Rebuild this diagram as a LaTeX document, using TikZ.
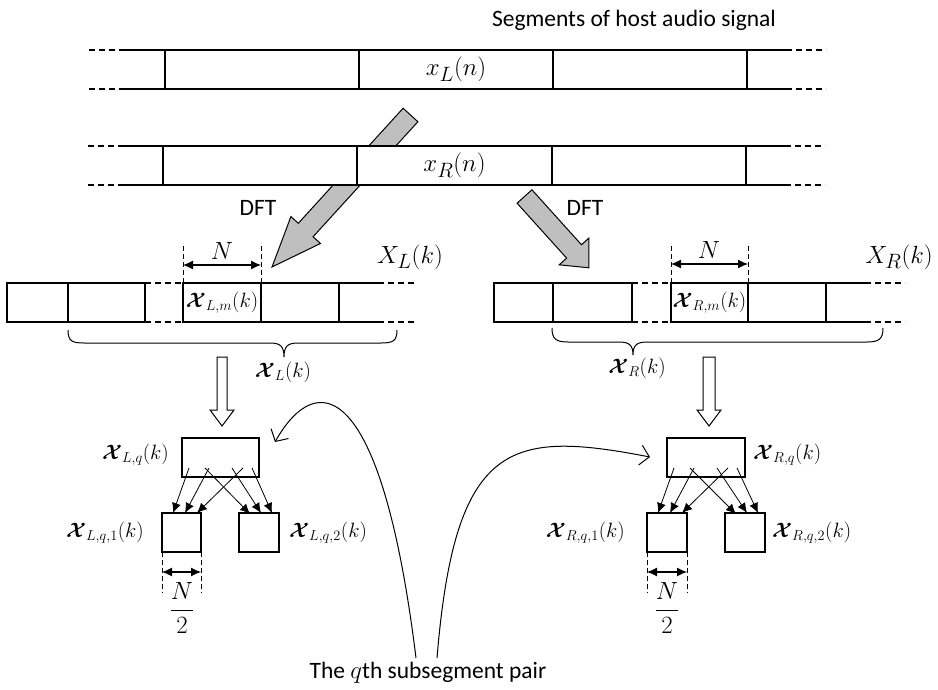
\documentclass[tikz,border=0pt]{standalone}
\usepackage{amsmath}
\usepackage{bm}
\usepackage{fontspec}
\setsansfont{Carlito}
\usetikzlibrary{arrows.meta,calc}
\newcommand{\cX}{\bm{\mathcal{X}}}
\begin{document}
\begin{tikzpicture}[x=1pt,y=-1pt,
  box/.style={draw, line width=1.1pt, fill=white, inner sep=0pt, outer sep=0pt, anchor=north west},
  ext/.style={line width=1.1pt},
  dsh/.style={line width=1.1pt, dash pattern=on 6pt off 4pt},
  vdsh/.style={line width=0.9pt, dash pattern=on 5pt off 3pt},
  dim/.style={line width=1.1pt, {Latex[length=10pt,width=9pt]}-{Latex[length=10pt,width=9pt]}},
  tarr/.style={line width=0.8pt, -{Latex[length=10pt,width=9pt]}},
  curv/.style={line width=1pt, -{Straight Barb[length=9pt,width=20pt,line width=1pt]}},
  gblock/.style={draw, line width=1pt, fill=black!25, line join=miter},
  hollow/.style={draw, line width=1pt, fill=white, line join=miter},
  sflab/.style={font=\sffamily\fontsize{23.5}{28}\selectfont, inner sep=0pt},
  mlab/.style={font=\fontsize{28}{32}\selectfont, inner sep=0pt},
  clab/.style={font=\fontsize{22}{26}\selectfont, inner sep=0pt},
  nlab/.style={font=\fontsize{25}{29}\selectfont, inner sep=0pt},
  flab/.style={font=\fontsize{24}{28}\selectfont, inner sep=0pt}
]
\useasboundingbox (0,0) rectangle (938,690);

% title
\node[sflab] (title) at (634,20) {Segments of host audio signal};

% row 1
\node[box,minimum width=194pt,minimum height=39pt] (r1a) at (165,50) {};
\node[box,minimum width=194pt,minimum height=39pt] (r1b) at (359,50) {};
\node[box,minimum width=194pt,minimum height=39pt] (r1c) at (553,50) {};
\node[mlab] (xL) at (r1b.center) {$x_L(n)$};
\draw[ext] (r1a.north west) -- ++(-40,0) coordinate (r1tl);
\draw[dsh] (r1tl) -- ++(-39,0);
\draw[ext] (r1a.south west) -- ++(-40,0) coordinate (r1bl);
\draw[dsh] (r1bl) -- ++(-39,0);
\draw[ext] (r1c.north east) -- ++(39,0) coordinate (r1tr);
\draw[dsh] (r1tr) -- ++(40,0);
\draw[ext] (r1c.south east) -- ++(39,0) coordinate (r1br);
\draw[dsh] (r1br) -- ++(40,0);

% gray DFT arrows
\begin{scope}[shift={(410.5,115)}, rotate=227.66]
  \draw[gblock] (0,-10) -- (155.6,-10) -- (155.6,-20) -- (205.6,0) -- (155.6,20) -- (155.6,10) -- (0,10) -- cycle;
\end{scope}
\begin{scope}[shift={(524.5,196.5)}, rotate=-47.95]
  \draw[gblock] (0,-10) -- (74,-10) -- (74,-20) -- (96,0) -- (74,20) -- (74,10) -- (0,10) -- cycle;
\end{scope}

% row 2
\node[box,minimum width=194pt,minimum height=39pt] (r2a) at (163,146) {};
\node[box,minimum width=195pt,minimum height=39pt] (r2b) at (357,146) {};
\node[box,minimum width=194pt,minimum height=39pt] (r2c) at (552,146) {};
\node[mlab] (xR) at (r2b.center) {$x_R(n)$};
\draw[ext] (r2a.north west) -- ++(-39,0) coordinate (r2tl);
\draw[dsh] (r2tl) -- ++(-39,0);
\draw[ext] (r2a.south west) -- ++(-39,0) coordinate (r2bl);
\draw[dsh] (r2bl) -- ++(-39,0);
\draw[ext] (r2c.north east) -- ++(39,0) coordinate (r2tr);
\draw[dsh] (r2tr) -- ++(40,0);
\draw[ext] (r2c.south east) -- ++(39,0) coordinate (r2br);
\draw[dsh] (r2br) -- ++(40,0);

\node[sflab] (dftL) at (258,208) {DFT};
\node[sflab] (dftR) at (585,208) {DFT};

% left spectrum strip
\node[box,minimum width=61pt,minimum height=39pt] (mL1) at (7,283) {};
\node[box,minimum width=77pt,minimum height=39pt] (mL2) at (68,283) {};
\node[box,minimum width=78pt,minimum height=39pt] (mL3) at (183,283) {};
\node[box,minimum width=78pt,minimum height=39pt] (mL4) at (261,283) {};
\node[clab] at (mL3.center) {$\cX_{L,m}(k)$};
\draw[dsh] (mL2.north east) -- (mL3.north west);
\draw[dsh] (mL2.south east) -- (mL3.south west);
\draw[ext] (mL4.north east) -- ++(39,0) coordinate (mLtr);
\draw[dsh] (mLtr) -- ++(39,0);
\draw[ext] (mL4.south east) -- ++(39,0) coordinate (mLbr);
\draw[dsh] (mLbr) -- ++(39,0);
\node[mlab] (XLk) at (410,257) {$X_L(k)$};
\draw[vdsh] (mL3.north west) -- ++(0,-40);
\draw[vdsh] (mL3.north east) -- ++(0,-40);
\draw[dim] ($(mL3.north west)+(0,-18)$) -- ($(mL3.north east)+(0,-18)$);
\node[nlab] (NL) at (222,251) {$N$};
\draw[line width=1pt] (68,330) .. controls (68,341) and (72,343) .. (84,343) -- (270,343)
  .. controls (280,343) and (284,346) .. (284,357)
  .. controls (284,346) and (288,343) .. (298,343) -- (381,343)
  .. controls (393,343) and (397,341) .. (397,330);
\node[clab] (cXL) at (283,372) {$\cX_L(k)$};

% right spectrum strip
\node[box,minimum width=59pt,minimum height=39pt] (mR1) at (494,283) {};
\node[box,minimum width=79pt,minimum height=39pt] (mR2) at (553,283) {};
\node[box,minimum width=77pt,minimum height=39pt] (mR3) at (671,283) {};
\node[box,minimum width=78pt,minimum height=39pt] (mR4) at (748,283) {};
\node[clab] at (mR3.center) {$\cX_{R,m}(k)$};
\draw[dsh] (mR2.north east) -- (mR3.north west);
\draw[dsh] (mR2.south east) -- (mR3.south west);
\draw[ext] (mR4.north east) -- ++(39,0) coordinate (mRtr);
\draw[dsh] (mRtr) -- ++(40,0);
\draw[ext] (mR4.south east) -- ++(39,0) coordinate (mRbr);
\draw[dsh] (mRbr) -- ++(40,0);
\node[mlab] (XRk) at (899,257) {$X_R(k)$};
\draw[vdsh] (mR3.north west) -- ++(0,-40);
\draw[vdsh] (mR3.north east) -- ++(0,-40);
\draw[dim] ($(mR3.north west)+(0,-19)$) -- ($(mR3.north east)+(0,-19)$);
\node[nlab] (NR) at (709,250) {$N$};
\draw[line width=1pt] (552,328) .. controls (552,339) and (556,342) .. (568,342) -- (619,342)
  .. controls (629,342) and (633,345) .. (633,355)
  .. controls (633,345) and (637,342) .. (647,342) -- (867,342)
  .. controls (879,342) and (883,339) .. (883,328);
\node[clab] (cXR) at (637,368) {$\cX_R(k)$};

% hollow arrows
\draw[hollow] (217,357) -- (227,357) -- (227,410) -- (234,410) -- (222,426) -- (210,410) -- (217,410) -- cycle;
\draw[hollow] (703,357) -- (715,357) -- (715,410) -- (721,410) -- (709,426) -- (697,410) -- (703,410) -- cycle;

% left tree
\node[box,minimum width=77pt,minimum height=39pt] (Lq) at (182,438) {};
\node[box,minimum width=39pt,minimum height=39pt] (Lq1) at (162,513) {};
\node[box,minimum width=40pt,minimum height=39pt] (Lq2) at (239,513) {};
\node[clab,anchor=east] at (169,455) {$\cX_{L,q}(k)$};
\node[clab,anchor=east] at (144,533) {$\cX_{L,q,1}(k)$};
\node[clab,anchor=west] at (289,533) {$\cX_{L,q,2}(k)$};
\draw[tarr] ($(Lq.south west)+(7,-9)$) -- ($(Lq1.north west)+(11,0)$);
\draw[tarr] ($(Lq.south west)+(27,-9)$) -- ($(Lq1.north west)+(23,0)$);
\draw[tarr] ($(Lq.south west)+(61,-9)$) -- ($(Lq1.north west)+(35,0)$);
\draw[tarr] ($(Lq.south west)+(23,-9)$) -- ($(Lq2.north west)+(11,1)$);
\draw[tarr] ($(Lq.south west)+(50,-9)$) -- ($(Lq2.north west)+(22,0)$);
\draw[tarr] ($(Lq.south west)+(70,-9)$) -- ($(Lq2.north west)+(33,0)$);
\draw[vdsh] (Lq1.south west) -- ++(0,41);
\draw[vdsh] (Lq1.south east) -- ++(0,41);
\draw[dim] ($(Lq1.south west)+(0,20)$) -- ($(Lq1.south east)+(0,20)$);
\node[flab] (hL) at (182,608) {$\dfrac{N}{2}$};

% right tree
\node[box,minimum width=78pt,minimum height=39pt] (Rq) at (667,438) {};
\node[box,minimum width=40pt,minimum height=39pt] (Rq1) at (647,513) {};
\node[box,minimum width=40pt,minimum height=39pt] (Rq2) at (725,513) {};
\node[clab,anchor=west] at (753,455) {$\cX_{R,q}(k)$};
\node[clab,anchor=east] at (625,533) {$\cX_{R,q,1}(k)$};
\node[clab,anchor=west] at (772,533) {$\cX_{R,q,2}(k)$};
\draw[tarr] ($(Rq.south west)+(7,-9)$) -- ($(Rq1.north west)+(11,0)$);
\draw[tarr] ($(Rq.south west)+(27,-9)$) -- ($(Rq1.north west)+(23,0)$);
\draw[tarr] ($(Rq.south west)+(61,-9)$) -- ($(Rq1.north west)+(35,0)$);
\draw[tarr] ($(Rq.south west)+(23,-9)$) -- ($(Rq2.north west)+(11,1)$);
\draw[tarr] ($(Rq.south west)+(50,-9)$) -- ($(Rq2.north west)+(22,0)$);
\draw[tarr] ($(Rq.south west)+(70,-9)$) -- ($(Rq2.north west)+(33,0)$);
\draw[vdsh] (Rq1.south west) -- ++(0,41);
\draw[vdsh] (Rq1.south east) -- ++(0,41);
\draw[dim] ($(Rq1.south west)+(0,20)$) -- ($(Rq1.south east)+(0,20)$);
\node[flab] (hR) at (667,608) {$\dfrac{N}{2}$};

% bottom label and curved pointers
\node[sflab] (pair) at (428,673) {The $q$th subsegment pair};
\coordinate (cL0) at (416,658);
\coordinate (cL1) at (275,442);
\coordinate (cR0) at (437,658);
\coordinate (cR1) at (650,457);
\draw[curv] (cL0) .. controls (382,382) and (318,366) .. (cL1);
\draw[curv] (cR0) .. controls (455,440) and (510,430) .. (cR1);
\end{tikzpicture}
\end{document}
